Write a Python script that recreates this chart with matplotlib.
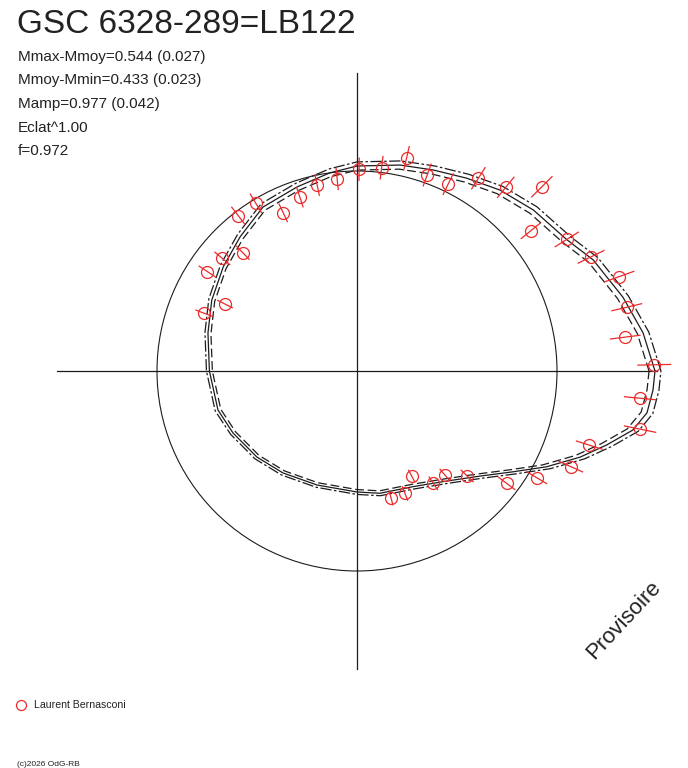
import numpy as np
import matplotlib.pyplot as plt
from matplotlib.patches import Circle

plt.rcParams['font.family'] = ['Liberation Sans', 'DejaVu Sans']

title = "GSC 6328-289=LB122"
info_lines = ["Mmax-Mmoy=0.544 (0.027)",
              "Mmoy-Mmin=0.433 (0.023)",
              "Mamp=0.977 (0.042)",
              "Eclat^1.00",
              "f=0.972"]
observer = "Laurent Bernasconi"

# fitted curve, polar angle (deg) and radius (unit = reference circle)
fit_ang = [0, 7.6, 15.5, 25.2, 32.0, 42.4, 51.7, 60.4, 69.2, 78.2, 90, 97.8,
           108, 119.8, 131, 142, 154, 165.7, 180, 195.7, 206.6, 220.7, 234,
           250.7, 270, 280.6, 296.0, 309.2, 319.5, 327.2, 333.2, 338.9,
           343.5, 347.9, 351.8, 356.3]
fit_r = [1.490, 1.443, 1.380, 1.305, 1.238, 1.194, 1.153, 1.109, 1.075,
         1.052, 1.025, 1.000, 0.968, 0.945, 0.890, 0.848, 0.808, 0.769,
         0.738, 0.722, 0.693, 0.660, 0.630, 0.604, 0.605, 0.622, 0.643,
         0.710, 0.809, 0.930, 1.062, 1.196, 1.302, 1.410, 1.465, 1.483]

# observations
obs_ang = [285.0, 291.4, 297.5, 304.2, 310.2, 316.4, 323.1, 329.3, 335.9,
           342.3, 348.4, 354.5, 1.2, 7.2, 13.3, 19.8, 26.0, 32.1, 38.9, 44.9,
           51.0, 57.8, 64.0, 70.3, 76.9, 83.1, 89.4, 95.9, 102.1, 108.2,
           115.0, 121.1, 127.4, 134.0, 140.1, 146.4, 153.1, 159.3]
obs_r = [0.656, 0.657, 0.592, 0.679, 0.681, 0.761, 0.936, 1.045, 1.171,
         1.219, 1.445, 1.422, 1.487, 1.352, 1.386, 1.394, 1.302, 1.238,
         1.116, 1.305, 1.182, 1.139, 1.040, 1.041, 1.092, 1.024, 1.009,
         0.965, 0.951, 0.914, 0.873, 0.979, 0.977, 0.822, 0.878, 0.898,
         0.740, 0.816]
obs_err = 0.055   # relative
band = 0.02       # relative width of the +/- curves

RED = '#ec2a2a'
INK = '#1c1c1c'

def xy(ang, r):
    a = np.radians(np.asarray(ang, dtype=float))
    r = np.asarray(r, dtype=float)
    return r*np.cos(a), r*np.sin(a)

W, H = 688, 768
cx, cy, scale = 357, 371, 200.0

fig = plt.figure(figsize=(W/100, H/100), dpi=100)
ax = fig.add_axes([0, 0, 1, 1])
ax.set_xlim(-cx/scale, (W-cx)/scale)
ax.set_ylim(-(H-cy)/scale, cy/scale)
ax.axis('off')

# axes cross and reference circle
ax.plot([-1.5, 1.5], [0, 0], color=INK, lw=0.9)
ax.plot([0, 0], [-1.49, 1.49], color=INK, lw=0.9)
ax.add_patch(Circle((0, 0), 1.0, fill=False, ec=INK, lw=0.8))

# fitted curve and its envelopes
ang_c = fit_ang + [fit_ang[0]]
r_c = np.array(fit_r + [fit_r[0]])
x, y = xy(ang_c, r_c)
ax.plot(x, y, color=INK, lw=0.9)
x, y = xy(ang_c, r_c*(1+band))
ax.plot(x, y, color=INK, lw=0.9, ls=(0, (9, 2, 2, 2)))
x, y = xy(ang_c, r_c*(1-band))
ax.plot(x, y, color=INK, lw=0.9, ls=(0, (7, 3)))

# observations with radial error bars
for a, r in zip(obs_ang, obs_r):
    x, y = xy([a, a], [r*(1-obs_err), r*(1+obs_err)])
    ax.plot(x, y, color=RED, lw=0.9)
x, y = xy(obs_ang, obs_r)
ax.plot(x, y, 'o', ms=8.6, mfc='none', mec=RED, mew=0.9)

# texts
def fx(px):
    return px/W

def fy(py):
    return 1 - py/H

fig.text(fx(17), fy(33), title, fontsize=24, color='#222222', va='baseline')
for i, s in enumerate(info_lines):
    fig.text(fx(18), fy(60.5 + 23.7*i), s, fontsize=11, color='#222222',
             va='baseline')

fig.text(fx(624), fy(620), "Provisoire", fontsize=16, color='#222222',
         rotation=47, ha='center', va='center')

ax.plot([(20.5-cx)/scale], [(cy-704.5)/scale], 'o', ms=7.2, mfc='none',
        mec=RED, mew=0.9)
fig.text(fx(34), fy(708.5), observer, fontsize=7.6, color='#222222',
         va='baseline')
fig.text(fx(17), fy(766), "(c)2026 OdG-RB", fontsize=6, color='#222222',
         va='baseline')

fig.savefig('out.png', dpi=100, facecolor='white')
